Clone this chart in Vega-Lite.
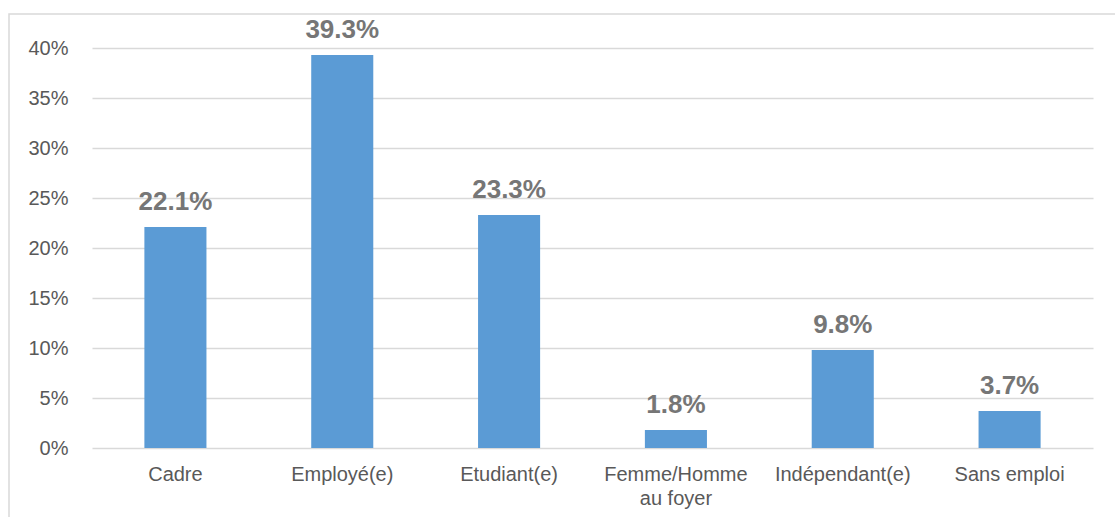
{
  "$schema": "https://vega.github.io/schema/vega-lite/v6.json",
  "autosize": "none",
  "padding": {"left": 9, "top": 14, "right": 0, "bottom": 0},
  "width": 1112,
  "height": 510,
  "background": "white",
  "config": {
    "font": "Liberation Sans",
    "view": {"stroke": "#d9d9d9", "strokeWidth": 1.5}
  },
  "data": {
    "values": [
      {"statut": "Cadre", "part": 0.221},
      {"statut": "Employé(e)", "part": 0.393},
      {"statut": "Etudiant(e)", "part": 0.233},
      {"statut": "Femme/Homme au foyer", "part": 0.018},
      {"statut": "Indépendant(e)", "part": 0.098},
      {"statut": "Sans emploi", "part": 0.037}
    ]
  },
  "encoding": {
    "x": {
      "field": "statut",
      "type": "nominal",
      "sort": null,
      "scale": {"range": [83, 1084], "paddingInner": 0.628, "paddingOuter": 0.314},
      "axis": {
        "title": null,
        "orient": "top",
        "offset": -450,
        "domain": false,
        "ticks": false,
        "labelAngle": 0,
        "labelBaseline": "top",
        "labelFontSize": 20,
        "labelColor": "#595959",
        "labelPadding": 0,
        "labelLineHeight": 24,
        "labelExpr": "datum.value == 'Femme/Homme au foyer' ? ['Femme/Homme', 'au foyer'] : datum.value"
      }
    },
    "y": {
      "field": "part",
      "type": "quantitative",
      "scale": {"domain": [0, 0.4], "range": [434, 34], "nice": false},
      "axis": {
        "title": null,
        "offset": -83,
        "format": ".0%",
        "values": [0, 0.05, 0.1, 0.15, 0.2, 0.25, 0.3, 0.35, 0.4],
        "domain": false,
        "ticks": false,
        "labelFontSize": 20,
        "labelColor": "#595959",
        "labelPadding": 24,
        "grid": true,
        "gridColor": "#d9d9d9",
        "gridWidth": 1.5
      }
    }
  },
  "layer": [
    {"mark": {"type": "bar", "color": "#5b9bd5"}},
    {
      "mark": {
        "type": "text",
        "baseline": "bottom",
        "dy": -12,
        "fontSize": 26,
        "fontWeight": "bold",
        "color": "#767676"
      },
      "encoding": {"text": {"field": "part", "type": "quantitative", "format": ".1%"}}
    }
  ]
}
